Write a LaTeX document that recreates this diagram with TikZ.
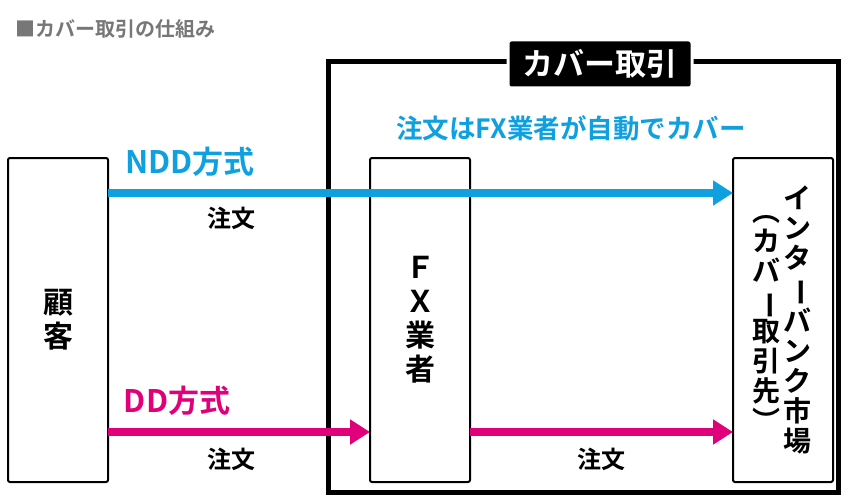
\documentclass[tikz,border=0pt]{standalone}
\usepackage{fontspec}
\usepackage{graphicx}
\setmainfont{Noto Sans CJK JP}[BoldFont={* Bold}]
\usetikzlibrary{arrows.meta}
\definecolor{ndd}{HTML}{0FA0E0}
\definecolor{dd}{HTML}{E0007A}
\definecolor{ttl}{HTML}{777777}
\newcommand{\vbar}{\rotatebox[origin=c]{-90}{ー}}
\begin{document}
\begin{tikzpicture}[x=1pt,y=-1pt,
  col/.style={draw=black,line width=2pt,rounded corners=2pt,fill=white},
  vtext/.style={font=\bfseries\fontsize{30}{34}\selectfont,align=center},
  vtext2/.style={font=\bfseries\fontsize{28}{30}\selectfont,align=center},
  lbl/.style={font=\bfseries\fontsize{24}{26}\selectfont},
  arr/.style={line width=8pt,-{Triangle[length=20pt,width=24pt]}}]
\useasboundingbox (0,0) rectangle (850,500);
\node[anchor=west,text=ttl,font=\bfseries\fontsize{20}{22}\selectfont] (title) at (12,29) {■カバー取引の仕組み};
\draw[line width=5pt] (328,62) rectangle (838,492);
\node[fill=black,draw=white,line width=3pt,text=white,font=\bfseries\fontsize{31}{33}\selectfont,minimum width=184pt,minimum height=48pt,rounded corners=3pt] (cover) at (600,64) {カバー取引};
\node[text=ndd,font=\bfseries\fontsize{26.5}{28}\selectfont] (auto) at (571,128) {注文はFX業者が自動でカバー};
\draw[col] (8,158) rectangle (108,482);
\node[vtext] (cust) at (58,320) {顧\\客};
\draw[col] (370,158) rectangle (470,482);
\node[vtext] (fx) at (420,320) {Ｆ\\Ｘ\\業\\者};
\draw[col] (733,158) rectangle (833,482);
\node[vtext2] (ib1) at (797,320) {イ\\ン\\タ\\\vbar\\バ\\ン\\ク\\市\\場};
\node[vtext2,anchor=north] (ib2) at (766,212) {︵\\カ\\バ\\\vbar\\取\\引\\先\\︶};
\coordinate (n1) at (108,193); \coordinate (n2) at (733,193);
\draw[arr,ndd] (n1) -- (n2);
\node[text=ndd,font=\bfseries\fontsize{31}{33}\selectfont] (nddl) at (190,162) {NDD方式};
\node[lbl] (o1) at (231,218) {注文};
\coordinate (d1) at (108,432); \coordinate (d2) at (370,432);
\coordinate (d3) at (470,432); \coordinate (d4) at (733,432);
\draw[arr,dd] (d1) -- (d2);
\draw[arr,dd] (d3) -- (d4);
\node[text=dd,font=\bfseries\fontsize{31}{33}\selectfont] (ddl) at (177,401) {DD方式};
\node[lbl] (o2) at (231,459) {注文};
\node[lbl] (o3) at (601,459) {注文};
\end{tikzpicture}
\end{document}
